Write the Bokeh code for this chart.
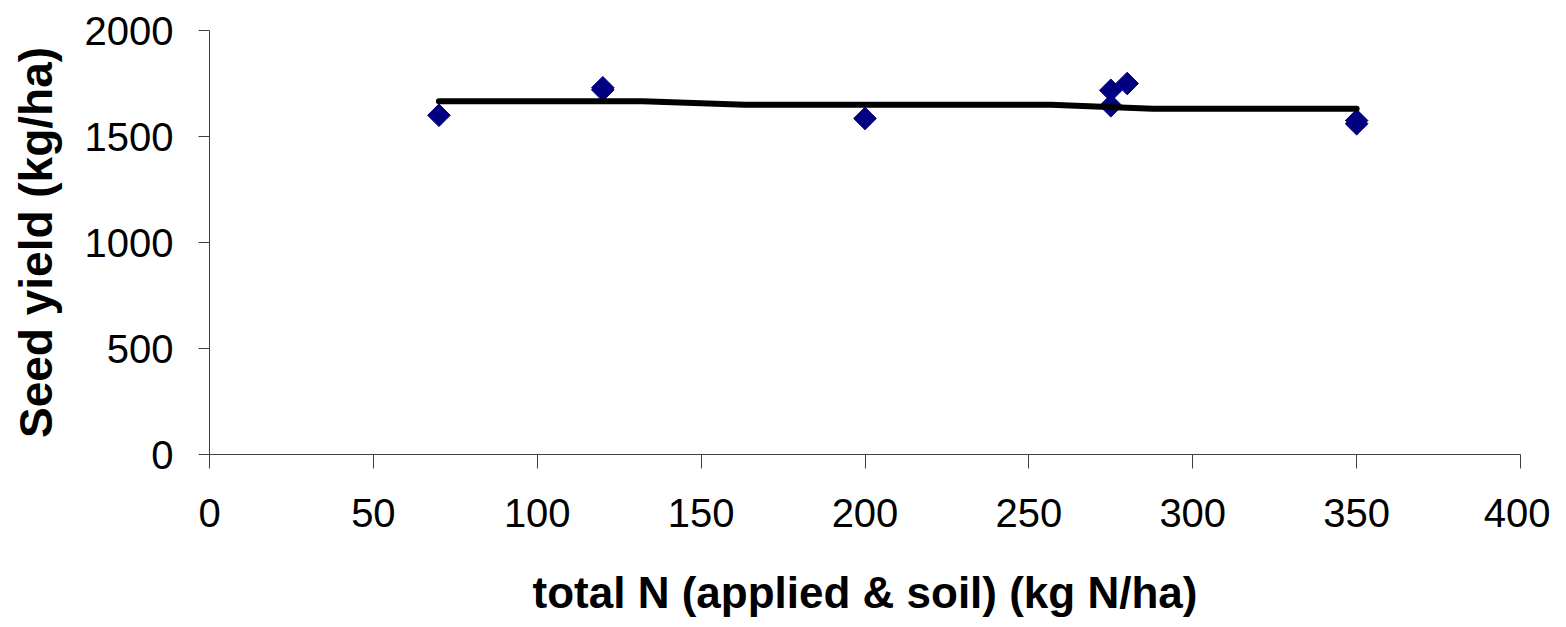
import numpy as np
from bokeh.plotting import figure
from bokeh.models import FixedTicker, Range1d, ColumnDataSource
from bokeh.embed import file_html
from bokeh.resources import INLINE

# observed data
total_n = [70, 120, 120, 200, 275, 275, 280, 350, 350]
seed_yield = [1600, 1730, 1720, 1585, 1718, 1645, 1750, 1575, 1560]

# fitted line
fit_n = [70, 101.1, 132.2, 163.3, 194.4, 225.6, 256.7, 287.8, 318.9, 350]
fit_yield = [1666, 1666, 1666, 1650, 1650, 1650, 1650, 1631, 1631, 1631]

x_ticks = [0, 50, 100, 150, 200, 250, 300, 350, 400]
y_ticks = [0, 500, 1000, 1500, 2000]

W, H = 1550, 619
p = figure(width=W, height=H, output_backend="svg", toolbar_location=None,
           x_range=Range1d(0, 400), y_range=Range1d(0, 2000),
           min_border_left=209, min_border_right=30, min_border_top=30,
           min_border_bottom=H - 454)
p.outline_line_color = None
p.xgrid.visible = False
p.ygrid.visible = False
p.background_fill_color = "white"
p.border_fill_color = "white"

pts = ColumnDataSource(dict(x=total_n, y=seed_yield))
p.scatter("x", "y", source=pts, marker="square", size=16, angle=np.pi / 4,
          fill_color="#000080", line_color="#000080")
fit = ColumnDataSource(dict(x=fit_n, y=fit_yield))
p.line("x", "y", source=fit, line_color="black", line_width=6,
       line_cap="round", line_join="round")

FONT = "Liberation Sans"
for ax, ticks, out, standoff in ((p.xaxis[0], x_ticks, 14, 30),
                                 (p.yaxis[0], y_ticks, 11, 25)):
    ax.ticker = FixedTicker(ticks=ticks)
    ax.minor_tick_line_color = None
    ax.major_tick_in = 0
    ax.major_tick_out = out
    ax.axis_line_color = "#404040"
    ax.major_tick_line_color = "#404040"
    ax.major_label_text_font = FONT
    ax.major_label_text_font_size = "40px"
    ax.major_label_text_color = "black"
    ax.major_label_standoff = standoff
    ax.axis_label_text_font = FONT
    ax.axis_label_text_font_style = "bold"
    ax.axis_label_text_color = "black"

p.xaxis.axis_label = "total N (applied & soil) (kg N/ha)"
p.yaxis.axis_label = "Seed yield (kg/ha)"
p.xaxis.axis_label_text_font_size = "44px"
p.yaxis.axis_label_text_font_size = "46px"
p.xaxis.axis_label_standoff = 38
p.yaxis.axis_label_standoff = 20

open("out.html", "w").write(file_html(p, INLINE))
